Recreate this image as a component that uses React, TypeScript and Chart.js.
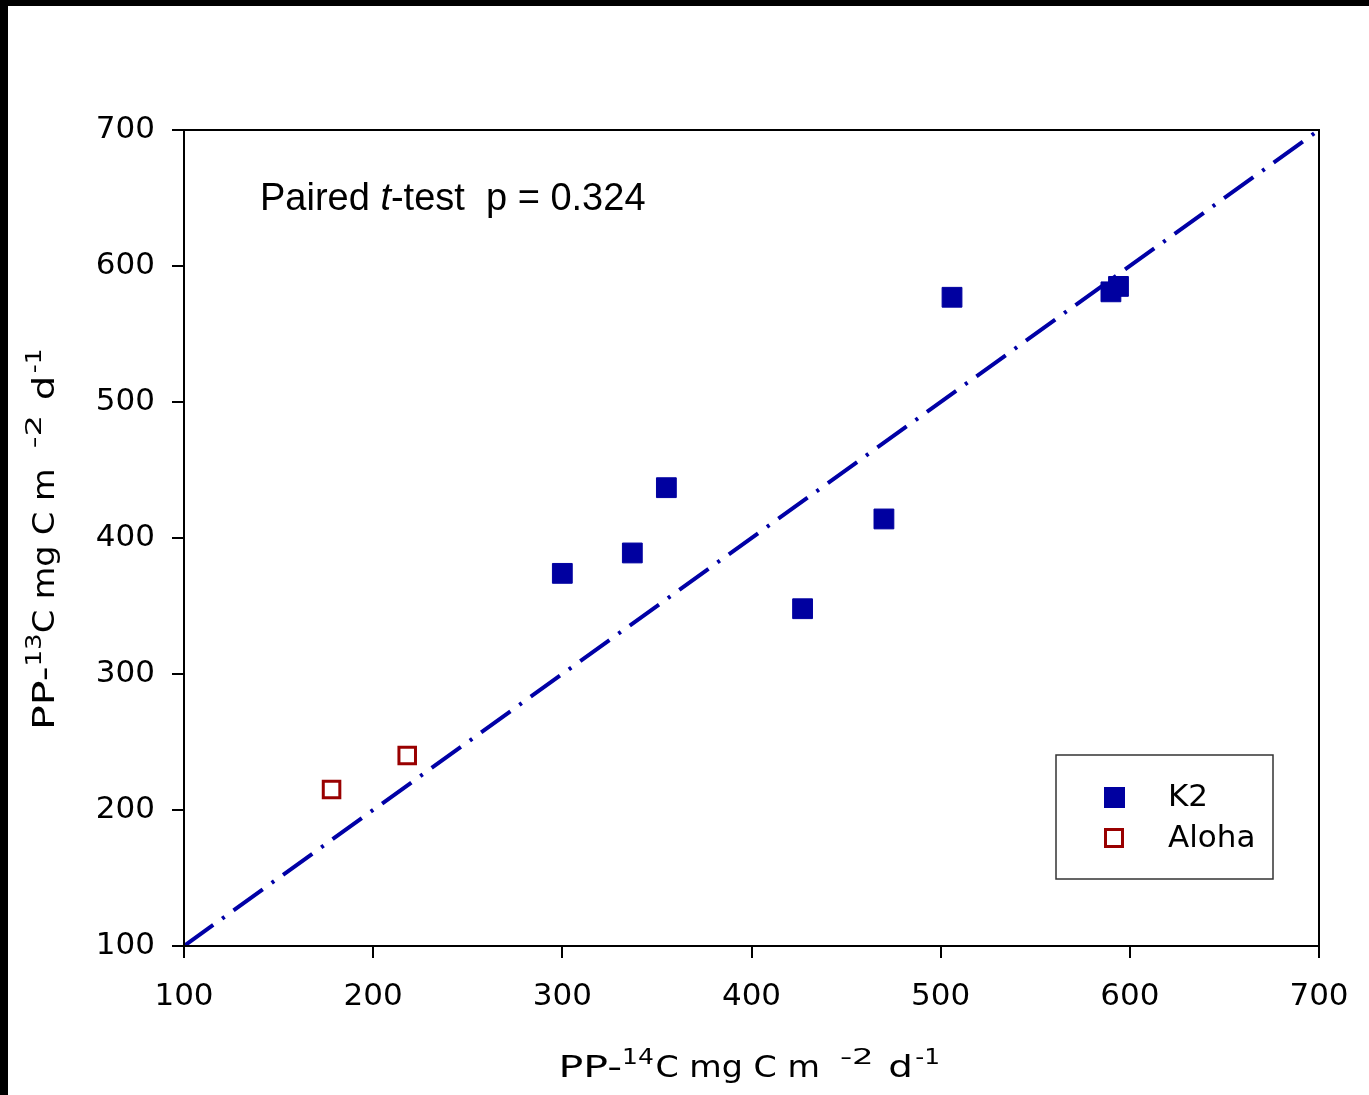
import React, { useEffect, useRef } from "react";
import { Chart, registerables } from "chart.js";

Chart.register(...registerables);

const k2X = [300, 337, 355, 427, 470, 506, 590, 594];
const k2Y = [374, 389, 437, 348, 414, 577, 581, 585];
const alohaX = [178, 218];
const alohaY = [215, 240];
const refLineXY = [100, 700];
const axisTicks = [100, 200, 300, 400, 500, 600, 700];
const seriesLabels = ["K2", "Aloha"];
const annotationText = ["Paired ", "t", "-test  p = 0.324"];

const W = 1369;
const H = 1095;
const BLUE = "#0000A0";
const RED = "#990000";
const TICK_FONT = "DejaVu Sans";

// off = ink start relative to title centre, w = ink width
type Piece = { t: string; sup?: boolean; off: number; w: number };
const xTitle: Piece[] = [
  { t: "PP-", off: -189, w: 58 },
  { t: "14", sup: true, off: -127, w: 29 },
  { t: "C mg C m", off: -95, w: 161 },
  { t: "-2", sup: true, off: 90, w: 30 },
  { t: "d", off: 138, w: 20 },
  { t: "-1", sup: true, off: 165, w: 22 },
];
const yTitle: Piece[] = [
  { t: "PP-", off: -189, w: 58 },
  { t: "13", sup: true, off: -127, w: 29 },
  { t: "C mg C m", off: -95, w: 161 },
  { t: "-2", sup: true, off: 90, w: 30 },
  { t: "d", off: 138, w: 20 },
  { t: "-1", sup: true, off: 165, w: 22 },
];

function drawPieces(ctx: CanvasRenderingContext2D, pieces: Piece[], cx: number, baseY: number) {
  ctx.textAlign = "left";
  ctx.textBaseline = "alphabetic";
  for (const p of pieces) {
    ctx.font = p.sup ? `21px "${TICK_FONT}"` : `31px "${TICK_FONT}"`;
    const m = ctx.measureText(p.t);
    const left = m.actualBoundingBoxLeft || 0;
    const ink = (m.actualBoundingBoxRight || m.width) + left;
    const s = ink > 0 ? p.w / ink : 1;
    ctx.save();
    ctx.translate(cx + p.off, p.sup ? baseY - 13 : baseY);
    ctx.scale(s, 1);
    ctx.fillText(p.t, left, 0);
    ctx.restore();
  }
}

const decorPlugin = {
  id: "decor",
  beforeDraw(chart: any) {
    const ctx = chart.ctx as CanvasRenderingContext2D;
    ctx.save();
    ctx.fillStyle = "#ffffff";
    ctx.fillRect(0, 0, W, H);
    ctx.fillStyle = "#000000";
    ctx.fillRect(0, 0, W, 6);
    ctx.fillRect(0, 0, 8, H);
    ctx.restore();
  },
  afterDraw(chart: any) {
    const ctx = chart.ctx as CanvasRenderingContext2D;
    const a = chart.chartArea;
    ctx.save();
    // frame
    ctx.strokeStyle = "#000";
    ctx.lineWidth = 2;
    ctx.strokeRect(a.left, a.top, a.right - a.left, a.bottom - a.top);

    ctx.fillStyle = "#000";
    // axis titles
    drawPieces(ctx, xTitle, (a.left + a.right) / 2, 1077);
    ctx.save();
    ctx.translate(54, (a.top + a.bottom) / 2 - 1);
    ctx.rotate(-Math.PI / 2);
    drawPieces(ctx, yTitle, 0, 0);
    ctx.restore();

    // annotation
    ctx.textAlign = "left";
    ctx.textBaseline = "alphabetic";
    let x = 260;
    const by = 210;
    const normal = '38px "Liberation Sans"';
    const ital = 'italic 38px "Liberation Sans"';
    annotationText.forEach((s, i) => {
      ctx.font = i === 1 ? ital : normal;
      ctx.fillText(s, x, by);
      x += ctx.measureText(s).width;
    });

    // legend
    ctx.strokeStyle = "#333";
    ctx.lineWidth = 1.5;
    ctx.strokeRect(1056, 755, 217, 124);
    const ds = chart.data.datasets;
    const rows = [
      { y: 797, d: ds[0] },
      { y: 838, d: ds[1] },
    ];
    ctx.font = `31px "${TICK_FONT}"`;
    ctx.textBaseline = "middle";
    rows.forEach((r) => {
      if (r.d.label === "K2") {
        ctx.fillStyle = r.d.backgroundColor;
        ctx.fillRect(1104, r.y - 10, 21, 21);
      } else {
        ctx.fillStyle = "#fff";
        ctx.fillRect(1104, r.y - 9, 20, 20);
        ctx.strokeStyle = r.d.borderColor;
        ctx.lineWidth = 3;
        ctx.strokeRect(1105.5, r.y - 8.5, 17, 17);
      }
      ctx.fillStyle = "#000";
      ctx.fillText(r.d.label, 1168, r.y + 1);
    });
    ctx.restore();
  },
};

export default function App() {
  const ref = useRef<HTMLCanvasElement | null>(null);
  useEffect(() => {
    if (!ref.current) return;
    const tickCfg = {
      color: "#000",
      font: { family: TICK_FONT, size: 31 },
      padding: 17,
      autoSkip: false,
    };
    const chart = new Chart(ref.current, {
      type: "scatter",
      data: {
        datasets: [
          {
            label: seriesLabels[0],
            data: k2X.map((x, i) => ({ x, y: k2Y[i] })),
            pointStyle: "rect",
            pointRadius: 14,
            backgroundColor: BLUE,
            borderColor: BLUE,
            borderWidth: 1,
            order: 1,
          },
          {
            label: seriesLabels[1],
            data: alohaX.map((x, i) => ({ x, y: alohaY[i] })),
            pointStyle: "rect",
            pointRadius: 11.7,
            backgroundColor: "#ffffff",
            borderColor: RED,
            borderWidth: 3,
            order: 2,
          },
          {
            type: "line",
            label: "1:1",
            data: refLineXY.map((v) => ({ x: v, y: v })),
            borderColor: "#0000A6",
            borderWidth: 4,
            borderDash: [36, 11, 3, 11],
            pointRadius: 0,
            showLine: true,
            fill: false,
            order: 10,
          } as any,
        ],
      },
      options: {
        animation: false,
        responsive: false,
        devicePixelRatio: 1,
        layout: { padding: { left: 0, top: 130, right: 50, bottom: 0 } },
        plugins: { legend: { display: false }, tooltip: { enabled: false } },
        scales: {
          x: {
            type: "linear",
            min: 100,
            max: 700,
            afterBuildTicks: (s: any) => {
              s.ticks = axisTicks.map((v) => ({ value: v }));
            },
            afterFit: (s: any) => {
              s.height = H - 946;
            },
            ticks: { ...tickCfg, padding: 20, maxRotation: 0 },
            grid: {
              drawOnChartArea: false,
              drawTicks: true,
              tickLength: 12,
              color: "#000",
              lineWidth: 2,
            },
            border: { display: true, color: "#000", width: 2 },
          },
          y: {
            type: "linear",
            min: 100,
            max: 700,
            afterBuildTicks: (s: any) => {
              s.ticks = axisTicks.map((v) => ({ value: v }));
            },
            afterFit: (s: any) => {
              s.width = 184;
            },
            ticks: tickCfg,
            grid: {
              drawOnChartArea: false,
              drawTicks: true,
              tickLength: 12,
              color: "#000",
              lineWidth: 2,
            },
            border: { display: true, color: "#000", width: 2 },
          },
        },
      } as any,
      plugins: [decorPlugin],
    });
    return () => chart.destroy();
  }, []);
  return (
    <div style={{ position: "absolute", left: 0, top: 0, width: W, height: H, background: "#fff" }}>
      <canvas ref={ref} width={W} height={H} style={{ display: "block", width: W, height: H }} />
    </div>
  );
}
